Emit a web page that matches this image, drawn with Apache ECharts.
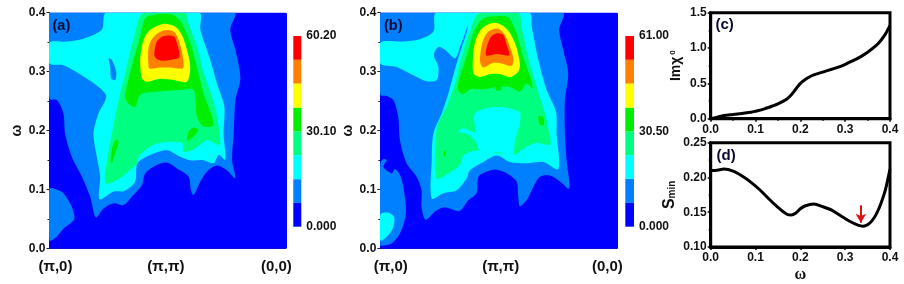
<!DOCTYPE html>
<html><head><meta charset="utf-8">
<style>html,body{margin:0;padding:0;background:#fff}#c{width:904px;height:284px}</style>
<script src="https://cdn.jsdelivr.net/npm/echarts@6/dist/echarts.min.js"></script>
</head><body><div id="c"></div>
<script>
// Contour bands: [path position %, omega]
const fullPanel=[[0,0],[100,0],[100,.4],[0,.4]];
const aBand1=[[78.1,.4],[76.4,.371],[78.6,.337],[80.7,.289],[78.6,.252],[77.9,.195],[77.2,.15],[78.6,.119],[75,.133],[70.8,.141],[66.6,.131],[63.8,.114],[60.9,.091],[59.8,.099],[58.8,.122],[53.9,.136],[49.6,.146],[45.4,.142],[40.5,.128],[39.1,.108],[34.8,.088],[31.3,.074],[27.1,.077],[22.8,.068],[19.6,.053],[17.2,.088],[13.7,.122],[9.4,.156],[6.6,.195],[5.9,.229],[3.1,.252],[0,.254],[0,.4]];
const aBand1b=[[0,.014],[2.4,.018],[5.9,.034],[10.4,.05],[9.4,.071],[5.9,.094],[2.4,.101],[0,.102]];
const aBand2=[[24,.4],[22.1,.371],[14.4,.356],[7.3,.351],[0,.349],[0,.314],[5.9,.311],[14.4,.292],[21.4,.272],[24,.258],[20.7,.229],[18.6,.195],[20,.156],[21.4,.122],[21.2,.084],[27.1,.097],[31.6,.098],[36.2,.114],[37.2,.145],[42.6,.159],[49.6,.167],[55.3,.156],[59.5,.15],[65.2,.15],[69.4,.145],[71.5,.159],[74.3,.151],[73.6,.195],[73.9,.241],[70.8,.28],[68,.32],[63.8,.371],[63.3,.4]];
const aBand1c=[[25,.323],[26.4,.32],[28.2,.3],[27.8,.286],[26,.289],[25.7,.308]];
const aBand3=[[39.8,.4],[35.5,.354],[32,.297],[29.2,.252],[26.4,.195],[25,.167],[23.6,.111],[28.5,.116],[33.4,.131],[37,.145],[37.7,.156],[44,.176],[49.6,.181],[56,.179],[56.7,.164],[61.6,.17],[66.6,.184],[71.9,.176],[70.8,.224],[68.7,.258],[65.2,.297],[62.3,.343],[58.8,.382],[57.4,.4]];
const aBand4=[[41.2,.393],[46.8,.398],[52.5,.396],[56,.382],[59.5,.349],[62.3,.309],[65.2,.263],[69.4,.21],[65.2,.207],[62.3,.224],[60.9,.269],[55.3,.269],[45.4,.266],[38.4,.261],[36.2,.24],[32.7,.249],[32,.261],[34.8,.309],[38.4,.36],[39.8,.385]];
const aBand4b=[[58.1,.184],[58.8,.198],[60.9,.205],[63,.202],[61.6,.193],[58.8,.183]];
const aBand4c=[[25.7,.148],[27.1,.179],[28.5,.185],[29.2,.179],[27.8,.162],[26.4,.145]];
const aBand5=[[38.4,.325],[39.8,.354],[42.6,.371],[48.2,.381],[53.2,.376],[56,.362],[58.1,.337],[59.5,.308],[58.1,.283],[52.5,.286],[46.8,.288],[41.2,.283],[39.1,.289],[38.4,.308]];
const aBand6=[[41.9,.308],[41.9,.342],[44,.359],[48.2,.37],[52.5,.368],[54.6,.354],[56.4,.325],[56.4,.306],[51.1,.307],[46.8,.307],[42.6,.305]];
const aBand7=[[44.3,.331],[45.4,.351],[48.2,.36],[52.5,.36],[53.9,.348],[54.9,.325],[51.1,.32],[46.8,.319],[44.7,.324]];

const bBand1=[[76.9,.4],[75.5,.371],[77.2,.337],[79.3,.297],[77.9,.252],[77.9,.195],[78.6,.15],[79.7,.102],[75.8,.114],[71.6,.124],[67.4,.122],[64.6,.105],[61.7,.082],[58.9,.072],[58.2,.088],[57.5,.114],[53.3,.128],[49.1,.134],[44.9,.131],[41.4,.122],[40.6,.094],[37.1,.082],[33.6,.064],[30.1,.067],[26.6,.07],[23.1,.063],[19.1,.049],[17.4,.071],[17.4,.099],[15.3,.122],[11.1,.145],[8.3,.184],[7.6,.223],[5.5,.252],[2.7,.259],[0,.261],[0,.4]];
const bBand1b=[[0,.145],[1.3,.152],[2.7,.15],[1.3,.139],[4.8,.128],[6.2,.135],[8.3,.125],[9.7,.105],[10.8,.06],[8.3,.026],[4.8,.009],[.6,.005],[0,.005]];
const bBand2b=[[0,.014],[3.4,.023],[5.5,.037],[5.8,.054],[3.4,.061],[0,.058]];
const bBand2c=[[23.5,.4],[22.4,.368],[16.7,.355],[9.7,.351],[0,.349],[0,.314],[6.9,.308],[13.9,.294],[19.5,.284],[23.8,.286],[24.5,.308],[22.6,.328],[24.5,.342],[27.3,.337],[31.5,.323],[33.6,.342],[36.4,.373],[38.5,.4]];
const bBand2=[[39.2,.4],[36.4,.365],[32.2,.314],[28.7,.263],[25.9,.229],[22.4,.195],[21.7,.15],[21.7,.085],[26.6,.094],[32.2,.099],[36.4,.119],[37.8,.133],[43.5,.147],[49.1,.158],[54.7,.147],[61.7,.145],[68.8,.147],[75.1,.135],[74.4,.195],[74.1,.232],[70.2,.269],[66.7,.32],[63.9,.376],[62.9,.4]];
const bBand3=[[41.8,.4],[37.8,.368],[34.3,.326],[31.5,.28],[28,.241],[23.8,.204],[23.8,.119],[28.7,.128],[33.6,.142],[35.3,.159],[42.1,.167],[56.1,.159],[61.7,.173],[66,.179],[71.6,.176],[71.3,.195],[69.5,.229],[66,.274],[62.4,.325],[59.6,.376],[58.2,.4]];
const bBand2d=[[32.9,.198],[35,.204],[39.9,.198],[39.9,.229],[49.1,.24],[58.6,.232],[58.9,.212],[56.8,.184],[55.8,.157],[50.5,.163],[42.1,.167],[39.9,.184],[36.4,.195]];
const bBand4=[[41.4,.382],[44.2,.392],[49.1,.394],[54,.392],[57.5,.365],[60.3,.325],[63.2,.292],[64.3,.272],[61.7,.28],[58.9,.266],[54.7,.274],[49.1,.274],[43.5,.27],[37.8,.27],[35,.262],[32.6,.269],[33.6,.292],[36.4,.326],[39.2,.365]];
const bBand4b=[[66.7,.224],[68.5,.224],[69.1,.21],[67.4,.21]];
const bBand4c=[[26.6,.162],[27.3,.167],[27.7,.159],[26.9,.156]];
const bBand4d=[[48.5,.276],[50.5,.277],[51.2,.27],[49.1,.268]];
const bBand5=[[39,.314],[39.9,.349],[42.8,.373],[48.4,.383],[53.3,.373],[56.8,.349],[58.9,.314],[58.2,.3],[54.7,.291],[50.5,.296],[46.3,.296],[42.1,.291],[39.5,.296]];
const bBand6=[[42.1,.326],[43.2,.351],[45.6,.368],[49.8,.373],[52.6,.362],[54.7,.342],[56.1,.323],[55.4,.31],[51.2,.314],[47.7,.315],[43.5,.307],[42.3,.314]];
const bBand7=[[44.6,.328],[46.3,.357],[49.1,.365],[51.9,.362],[53.3,.345],[54.4,.328],[49.1,.33]];

const bandColors=['#0000ff','#0080ff','#00ffff','#00ff80','#00ee00','#ffff00','#ff8000','#ff0000'];
const aShapes=[[0,fullPanel],[1,aBand1],[1,aBand1b],[2,aBand2],[1,aBand1c],[3,aBand3],[4,aBand4],[4,aBand4b],[4,aBand4c],[5,aBand5],[6,aBand6],[7,aBand7]];
const bShapes=[[0,fullPanel],[1,bBand1],[1,bBand1b],[2,bBand2b],[2,bBand2c],[2,bBand2],[3,bBand3],[2,bBand2d],[4,bBand4],[4,bBand4b],[4,bBand4c],[4,bBand4d],[5,bBand5],[6,bBand6],[7,bBand7]];

const barEdgesA=[0,7.5,15,22.6,30.1,37.6,45.2,52.7,60.2];
const barEdgesB=[0,7.6,15.3,22.9,30.5,38.1,45.8,53.4,61];
const barTicksA=[[0,'0.000'],[30.1,'30.10'],[60.2,'60.20']];
const barTicksB=[[0,'0.000'],[30.5,'30.50'],[61,'61.00']];
const pathTicksA=[[2.5,'(π,0)'],[49.2,'(π,π)'],[95.9,'(0,0)']];
const pathTicksB=[[4.4,'(π,0)'],[50.8,'(π,π)'],[95.8,'(0,0)']];

const chi=[[0,0],[.01,.015],[.02,.03],[.03,.045],[.05,.06],[.07,.075],[.09,.09],[.1,.105],[.12,.14],[.14,.185],[.15,.21],[.17,.28],[.18,.34],[.19,.42],[.2,.5],[.21,.55],[.22,.59],[.23,.62],[.25,.66],[.27,.7],[.29,.74],[.31,.8],[.33,.86],[.35,.94],[.37,1.04],[.38,1.11],[.39,1.2],[.4,1.32]];
const smin=[[0,.21],[.01,.21],[.03,.212],[.05,.209],[.07,.202],[.09,.193],[.11,.182],[.13,.169],[.15,.157],[.17,.147],[.18,.146],[.19,.149],[.2,.155],[.21,.159],[.23,.162],[.25,.158],[.27,.153],[.29,.145],[.31,.137],[.33,.131],[.34,.13],[.35,.132],[.36,.138],[.37,.148],[.38,.163],[.39,.183],[.4,.212]];
const arrowFrom=[.335,.16], arrowTo=[.335,.135];

const F='"Liberation Sans",Arial,sans-serif';
const lab={fontFamily:F,fontWeight:'bold',fontSize:12,color:'#111'};
function contour(shapes,xi,yi){return {type:'custom',xAxisIndex:xi,yAxisIndex:yi,clip:true,silent:true,animation:false,
  data:shapes.map((s,i)=>[i]),
  renderItem(p,api){const s=shapes[api.value(0)];
    return {type:'polygon',shape:{points:s[1].map(c=>api.coord(c)),smooth:.3},style:{fill:bandColors[s[0]],stroke:null}};}};}
function colorBar(edges,xi,yi){return {type:'custom',xAxisIndex:xi,yAxisIndex:yi,silent:true,animation:false,
  data:edges.slice(0,-1).map((e,i)=>[i]),
  renderItem(p,api){const i=api.value(0),a=api.coord([0,edges[i]]),b=api.coord([1,edges[i+1]]);
    return {type:'rect',shape:{x:a[0],y:b[1],width:b[0]-a[0],height:a[1]-b[1]},style:{fill:bandColors[i]}};}};}
function cX(i,ticks){return {gridIndex:i,type:'value',min:0,max:100,splitLine:{show:false},axisTick:{show:false},
  axisLine:{lineStyle:{color:'#336',width:1}},
  axisLabel:{customValues:ticks.map(t=>t[0]),formatter:v=>(ticks.find(t=>t[0]===v)||[0,''])[1],
    fontFamily:F,fontWeight:'bold',fontSize:15,color:'#111',margin:11,hideOverlap:false}};}
function cY(i){return {gridIndex:i,type:'value',min:0,max:.4,interval:.1,splitLine:{show:false},
  axisLine:{show:true,lineStyle:{color:'#336',width:1}},
  axisTick:{show:true,length:3,lineStyle:{color:'#222'}},minorTick:{show:true,splitNumber:2,length:2,lineStyle:{color:'#222'}},
  axisLabel:Object.assign({},lab,{margin:4,formatter:v=>v.toFixed(1)}),
  name:'ω',nameLocation:'middle',nameGap:25,nameTextStyle:{fontFamily:F,fontWeight:'bold',fontSize:14,color:'#111'}};}
function barX(i){return {gridIndex:i,type:'value',min:0,max:1,show:false};}
function barY(i,edges,ticks){return {gridIndex:i,type:'value',position:'right',min:0,max:edges[edges.length-1],splitLine:{show:false},
  axisLine:{show:false},axisTick:{show:false},
  axisLabel:Object.assign({},lab,{margin:5,padding:[3,0,0,0],customValues:ticks.map(t=>t[0]),formatter:v=>(ticks.find(t=>t[0]===v)||[0,''])[1]})};}
function lnX(i,nm){return {gridIndex:i,type:'value',min:0,max:.4,interval:.1,splitLine:{show:false},
  axisLine:{lineStyle:{color:'#000',width:3}},axisTick:{length:3,lineStyle:{color:'#000',width:1.5}},
  minorTick:{show:true,splitNumber:2,length:2,lineStyle:{color:'#000',width:1.5}},
  axisLabel:Object.assign({},lab,{margin:5,formatter:v=>v.toFixed(1)}),
  name:nm,nameLocation:'middle',nameGap:20,nameTextStyle:{fontFamily:'"Liberation Serif",serif',fontWeight:'bold',fontSize:16,color:'#111'}};}
function lnY(i,min,max,iv,dec,nm,gap,size,rich){return {gridIndex:i,type:'value',min:min,max:max,interval:iv,splitLine:{show:false},
  axisLine:{show:true,lineStyle:{color:'#000',width:3}},axisTick:{show:true,length:3,lineStyle:{color:'#000',width:1.5}},
  minorTick:{show:true,splitNumber:2,length:2,lineStyle:{color:'#000',width:1.5}},
  axisLabel:Object.assign({},lab,{margin:4,formatter:v=>v.toFixed(dec)}),
  name:nm,nameLocation:'middle',nameGap:gap,nameTextStyle:{fontFamily:F,fontWeight:'bold',fontSize:size,color:'#111',rich:rich}};}
function panelLabel(t,x,y,sz){return {type:'text',x:x,y:y,z:50,style:{text:t,fill:'#0a0a30',font:'bold '+sz+'px '+F,textVerticalAlign:'middle'}};}

const chart=echarts.init(document.getElementById('c'),null,{renderer:'canvas'});
const box=(l,r,t,b,extra)=>Object.assign({left:l,width:r-l,top:t,height:b-t,containLabel:false},extra||{});
const frame={show:true,borderColor:'#000',borderWidth:3,backgroundColor:'transparent'};
chart.setOption({animation:false,backgroundColor:'#fff',
  grid:[box(49.5,286,12.7,248.7),box(293.3,301.3,36,226.7),box(380.3,617.3,12.7,248.7),box(625.3,634,36,226.7),
        box(710.7,890,12.7,118.7,frame),box(710.7,890,142.7,248.7,frame)],
  xAxis:[cX(0,pathTicksA),barX(1),cX(2,pathTicksB),barX(3),lnX(4,''),lnX(5,'ω')],
  yAxis:[cY(0),barY(1,barEdgesA,barTicksA),cY(2),barY(3,barEdgesB,barTicksB),
    lnY(4,0,1.5,.5,1,'Imχ{sup|0}',28,14,{sup:{fontSize:8,fontFamily:F,fontWeight:'bold',color:'#111',verticalAlign:'top',padding:[0,0,0,2]}}),
    lnY(5,.1,.25,.05,2,'S{sub|min}',33,16,{sub:{fontSize:10,fontFamily:F,fontWeight:'bold',color:'#111',verticalAlign:'bottom'}})],
  series:[contour(aShapes,0,0),colorBar(barEdgesA,1,1),contour(bShapes,2,2),colorBar(barEdgesB,3,3),
    {type:'line',xAxisIndex:4,yAxisIndex:4,data:chi,showSymbol:false,smooth:.3,lineStyle:{color:'#000',width:3}},
    {type:'line',xAxisIndex:5,yAxisIndex:5,data:smin,showSymbol:false,smooth:.3,lineStyle:{color:'#000',width:3},
     markLine:{silent:true,animation:false,symbol:['none','arrow'],symbolSize:[8,9],label:{show:false},
       lineStyle:{color:'#e01010',width:2,type:'solid'},data:[[{coord:arrowFrom},{coord:arrowTo}]]}}],
  graphic:[panelLabel('(a)',52.5,26,14.5),panelLabel('(b)',384,26,14.5),panelLabel('(c)',715.5,25,15),panelLabel('(d)',716.5,156,15)]
});
</script></body></html>
